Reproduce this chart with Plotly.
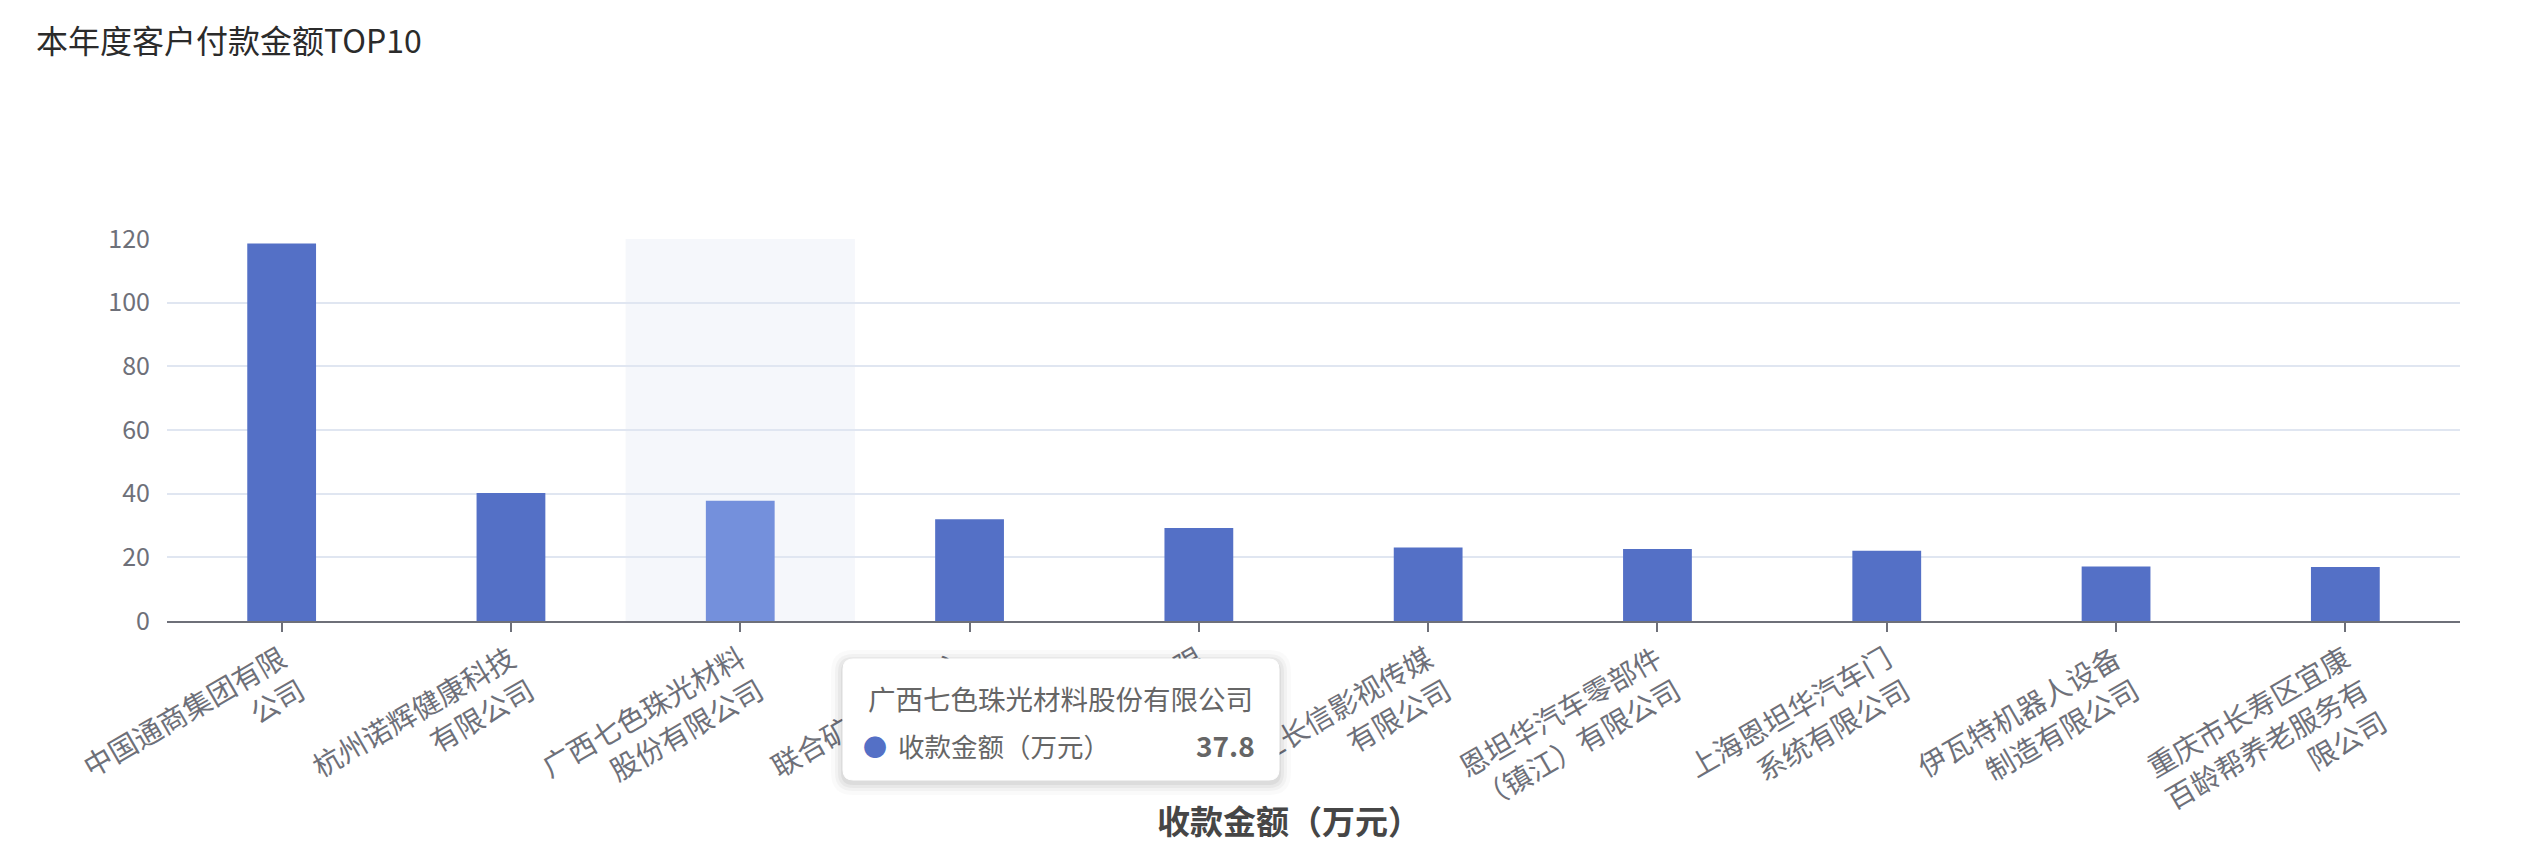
import plotly.graph_objects as go

# ---------------- data ----------------
companies = [
    "中国通商集团有限公司",
    "杭州诺辉健康科技有限公司",
    "广西七色珠光材料股份有限公司",
    "联合矿产（香港）有限公司",
    "宁波华翔电子有限公司",
    "浙江长信影视传媒有限公司",
    "恩坦华汽车零部件（镇江）有限公司",
    "上海恩坦华汽车门系统有限公司",
    "伊瓦特机器人设备制造有限公司",
    "重庆市长寿区宜康百龄帮养老服务有限公司",
]
amounts = [118.6, 40.2, 37.8, 32.0, 29.2, 23.1, 22.6, 22.1, 17.1, 17.0]
series_name = "收款金额（万元）"
chart_title = "本年度客户付款金额TOP10"
hover_index = 2
y_ticks = [0, 20, 40, 60, 80, 100, 120]

# ---------------- layout constants ----------------
# page has an 8px body margin, figure is sized to fit the 2532x866 window
OFF = 8
W, H = 2532 - OFF, 866 - OFF
PL, PR, PT, PB = 167, 2460, 239, 621          # plot area in page pixels
L, T = PL - OFF, PT - OFF
R = W - (PR - OFF)
B = H - (PB - OFF)
PW, PH = PR - PL, PB - PT
FONT = "Noto Sans CJK SC"
BLUE = "#5470C6"
BLUE_HI = "#7490DC"
AXIS = "#6E7079"


def px_x(x):
    return (x - PL) / PW


def px_y(y):
    return (PB - y) / PH


def wrap(s, n=8):
    return "<br>".join(s[i:i + n] for i in range(0, len(s), n))


labels = [wrap(c) for c in companies]
colors = [BLUE_HI if i == hover_index else BLUE for i in range(len(companies))]

fig = go.Figure()
fig.add_trace(go.Bar(
    x=labels, y=amounts, name=series_name,
    marker=dict(color=colors, line=dict(width=0)),
    width=0.30, hoverinfo="skip",
))

shapes = []
# hover shadow band
shapes.append(dict(type="rect", xref="x", yref="paper",
                   x0=hover_index - 0.5, x1=hover_index + 0.5, y0=0, y1=1,
                   fillcolor="#F5F7FB", line=dict(width=0), layer="below"))


def rounded_rect(x0, y0, x1, y1, r):
    rx, ry = r / PW, r / PH
    X0, X1 = px_x(x0), px_x(x1)
    Yt, Yb = px_y(y0), px_y(y1)
    return (f"M {X0+rx},{Yt} L {X1-rx},{Yt} Q {X1},{Yt} {X1},{Yt-ry} "
            f"L {X1},{Yb+ry} Q {X1},{Yb} {X1-rx},{Yb} L {X0+rx},{Yb} "
            f"Q {X0},{Yb} {X0},{Yb+ry} L {X0},{Yt-ry} Q {X0},{Yt} {X0+rx},{Yt} Z")


tx0, ty0, tx1, ty1 = 843, 659, 1279, 780
for k, a in [(12, 0.02), (8, 0.03), (5, 0.04), (2, 0.05)]:
    shapes.append(dict(type="path", xref="paper", yref="paper",
                       path=rounded_rect(tx0 - k, ty0 - k + 3, tx1 + k, ty1 + k + 3, 10 + k),
                       fillcolor=f"rgba(0,0,0,{a})", line=dict(width=0)))
shapes.append(dict(type="path", xref="paper", yref="paper",
                   path=rounded_rect(tx0, ty0, tx1, ty1, 10),
                   fillcolor="#FFFFFF", line=dict(color="#FFFFFF", width=1)))

annotations = []
# tooltip texts
annotations.append(dict(xref="paper", yref="paper", x=px_x(866), y=px_y(698),
                        xanchor="left", yanchor="middle", showarrow=False,
                        text=companies[hover_index],
                        font=dict(family=FONT, size=27.5, color="#666666")))
annotations.append(dict(xref="paper", yref="paper", x=px_x(875), y=px_y(745),
                        xanchor="center", yanchor="middle", showarrow=False,
                        text="●", font=dict(family=FONT, size=24, color=BLUE)))
annotations.append(dict(xref="paper", yref="paper", x=px_x(896), y=px_y(745),
                        xanchor="left", yanchor="middle", showarrow=False,
                        text=series_name,
                        font=dict(family=FONT, size=26.5, color="#666666")))
annotations.append(dict(xref="paper", yref="paper", x=px_x(1257), y=px_y(745),
                        xanchor="right", yanchor="middle", showarrow=False,
                        text=f"<b>{amounts[hover_index]}</b>",
                        font=dict(family=FONT, size=28, color="#666666")))
# axis name
annotations.append(dict(xref="paper", yref="paper", x=px_x(1289), y=px_y(820),
                        xanchor="center", yanchor="middle", showarrow=False,
                        text=f"<b>{series_name}</b>",
                        font=dict(family=FONT, size=33, color="#464646")))

fig.update_layout(
    width=W, height=H,
    margin=dict(l=L, r=R, t=T, b=B, autoexpand=False),
    paper_bgcolor="#FFFFFF", plot_bgcolor="rgba(0,0,0,0)",
    showlegend=False,
    title=dict(text=chart_title, xref="container", yref="container",
               x=(36 - OFF) / W, xanchor="left", y=1 - (42 - OFF) / H, yanchor="middle",
               font=dict(family=FONT, size=32, color="#2B2B2B")),
    shapes=shapes, annotations=annotations,
)
fig.update_xaxes(
    type="category", showline=True, linecolor=AXIS, linewidth=2,
    ticks="outside", ticklen=9, tickcolor=AXIS, tickwidth=2,
    tickangle=-30, showgrid=False, zeroline=False, automargin=False,
    tickfont=dict(family=FONT, size=28.5, color=AXIS),
)
fig.update_yaxes(
    range=[0, 120], tickvals=y_ticks, showline=False, zeroline=False,
    gridcolor="#E0E6F1", gridwidth=2, automargin=False,
    ticklabelstandoff=16,
    tickfont=dict(family=FONT, size=25, color=AXIS),
)

fig.write_html("out.html")
